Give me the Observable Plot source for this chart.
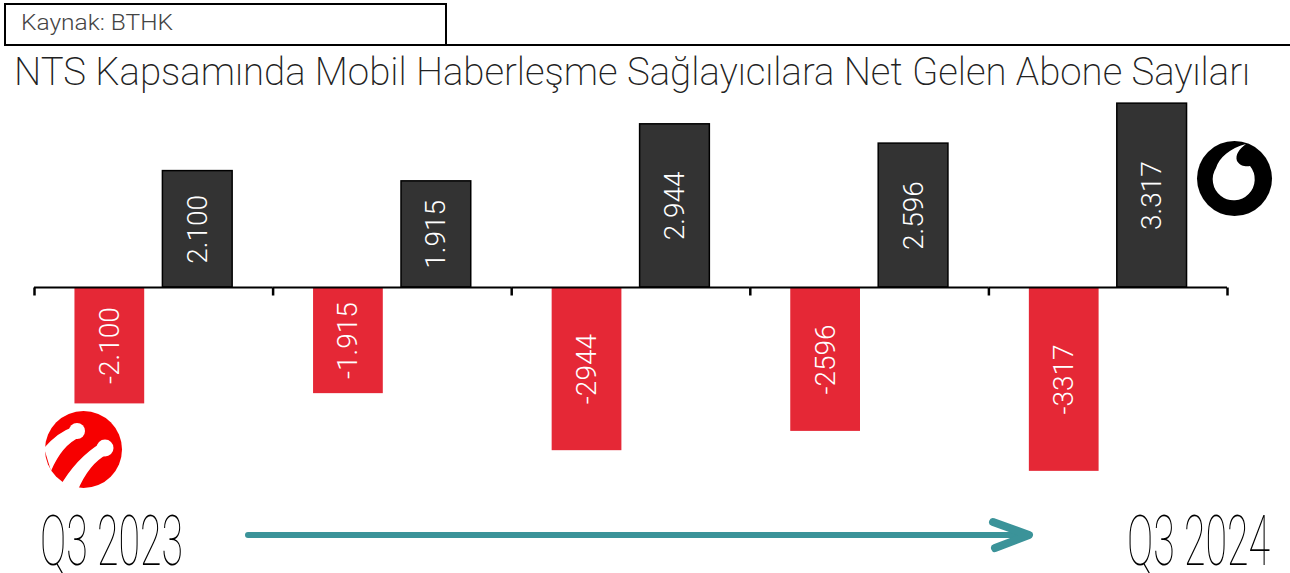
<!DOCTYPE html>
<html>
<head>
<meta charset="utf-8">
<script src="https://cdn.jsdelivr.net/npm/d3@7"></script>
<script src="https://cdn.jsdelivr.net/npm/@observablehq/plot@0.6"></script>
<style>
  html, body { margin: 0; padding: 0; background: #fff; }
  #page { position: relative; width: 1290px; height: 573px; overflow: hidden; font-family: Roboto, sans-serif; }
  #chart { position: absolute; left: 0; top: 93px; }
  #overlay { position: absolute; left: 0; top: 0; pointer-events: none; }
</style>
</head>
<body>
<div id="page">
  <div id="chart"></div>
  <svg id="overlay" width="1290" height="573" xmlns="http://www.w3.org/2000/svg">
    <!-- source box -->
    <rect x="5" y="4" width="441" height="41" fill="none" stroke="#000" stroke-width="2"/>
    <line x1="446" y1="45" x2="1290" y2="45" stroke="#000" stroke-width="2"/>
    <text id="source" x="21" y="30" font-family="Roboto" font-weight="300" font-size="22" fill="#444" textLength="152" lengthAdjust="spacingAndGlyphs"></text>
    <!-- title -->
    <text id="title" x="14" y="85" font-family="Roboto" font-weight="200" font-size="38" fill="#222" textLength="1236" lengthAdjust="spacingAndGlyphs"></text>
    <!-- Turkcell logo -->
    <g>
      <circle cx="83.5" cy="449.5" r="38.5" fill="#f70000"/>
      <path d="M 44 448 Q 58 432 73 427 L 80 437 Q 62 445 51 471 Z" fill="#fff"/>
      <circle cx="77" cy="431" r="8" fill="#fff"/>
      <path d="M 59 488 Q 76 458 101 443 L 108 454 Q 89 463 77 492 Z" fill="#fff"/>
      <circle cx="105" cy="448" r="8.5" fill="#fff"/>
    </g>
    <!-- Vodafone logo -->
    <g>
      <circle cx="1234.5" cy="178.5" r="37.5" fill="#000"/>
      <path d="M 1250 166 A 21 21 0 1 1 1216 168 C 1219 158, 1230 148, 1246 144 C 1239 149, 1235 155, 1237 161 C 1240 166, 1246 167, 1250 166 Z" fill="#fff"/>
    </g>
    <!-- arrow -->
    <line x1="248" y1="535" x2="1026" y2="535" stroke="#3b9399" stroke-width="6" stroke-linecap="round"/>
    <path d="M 993 522 L 1029 535 L 995 548" fill="none" stroke="#3b9399" stroke-width="8" stroke-linecap="round" stroke-linejoin="round"/>
    <!-- period labels -->
    <text id="startLabel" x="40" y="565" font-family="Roboto" font-weight="100" font-size="70" fill="#000" textLength="143" lengthAdjust="spacingAndGlyphs"></text>
    <text id="endLabel" x="1127" y="565" font-family="Roboto" font-weight="100" font-size="70" fill="#000" textLength="143" lengthAdjust="spacingAndGlyphs"></text>
  </svg>
</div>
<script>
// ---- data ----
const quarters = ["Q3 2023", "Q4 2023", "Q1 2024", "Q2 2024", "Q3 2024"];
const operators = ["Turkcell", "Vodafone"];
const turkcellNet = [-2100, -1915, -2944, -2596, -3317];
const vodafoneNet = [2100, 1915, 2944, 2596, 3317];
const turkcellLabels = ["-2.100", "-1.915", "-2944", "-2596", "-3317"];
const vodafoneLabels = ["2.100", "1.915", "2.944", "2.596", "3.317"];
const titleText = "NTS Kapsamında Mobil Haberleşme Sağlayıcılara Net Gelen Abone Sayıları";
const sourceText = "Kaynak: BTHK";

// ---- build table ----
const rows = [];
quarters.forEach((q, i) => {
  rows.push({quarter: q, operator: operators[0], value: turkcellNet[i], label: turkcellLabels[i]});
  rows.push({quarter: q, operator: operators[1], value: vodafoneNet[i], label: vodafoneLabels[i]});
});

const tickSymbol = {draw(ctx) { ctx.moveTo(0, 0); ctx.lineTo(0, 8); }};

const chart = Plot.plot({
  width: 1290,
  height: 388,
  marginTop: 0,
  marginBottom: 0,
  marginLeft: 34,
  marginRight: 63,
  fx: {domain: quarters, paddingInner: 0, paddingOuter: 0, round: false, axis: null, label: null},
  x: {domain: operators, paddingInner: 0.207, paddingOuter: 0.46, round: false, axis: null, label: null},
  y: {domain: [-3500, 3500], axis: null},
  marks: [
    Plot.barY(rows.filter(d => d.operator === "Turkcell"), {fx: "quarter", x: "operator", y: "value", fill: "#e52836"}),
    Plot.barY(rows.filter(d => d.operator === "Vodafone"), {fx: "quarter", x: "operator", y: "value", fill: "#333333", stroke: "#000", strokeWidth: 1.5}),
    Plot.ruleY([0], {stroke: "#000", strokeWidth: 2}),
    Plot.dot(quarters, {fx: d => d, y: () => 0, frameAnchor: "left", symbol: tickSymbol, stroke: "#000", strokeWidth: 2.5, fill: "none"}),
    Plot.dot([quarters[quarters.length - 1]], {fx: d => d, y: () => 0, frameAnchor: "right", symbol: tickSymbol, stroke: "#000", strokeWidth: 2.5, fill: "none"}),
    Plot.text(rows, {fx: "quarter", x: "operator", y: d => d.value / 2, text: "label", rotate: -90, fill: "#fff", fontSize: 28, fontWeight: 300, fontFamily: "Roboto"})
  ]
});
document.getElementById("chart").appendChild(chart);

document.getElementById("title").textContent = titleText;
document.getElementById("source").textContent = sourceText;
document.getElementById("startLabel").textContent = quarters[0];
document.getElementById("endLabel").textContent = quarters[quarters.length - 1];
</script>
</body>
</html>
